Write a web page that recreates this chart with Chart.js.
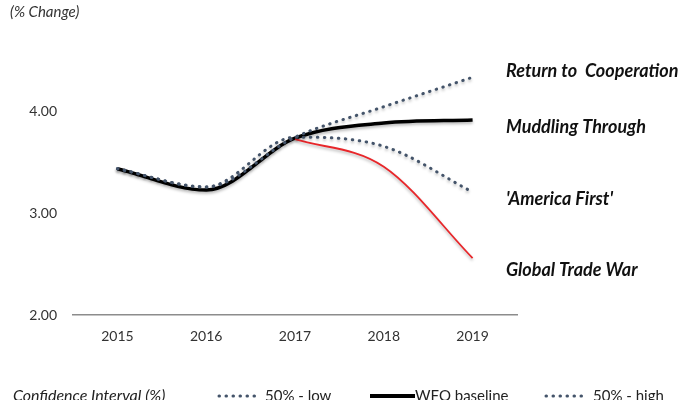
<!DOCTYPE html>
<html>
<head>
<meta charset="utf-8">
<script src="https://cdn.jsdelivr.net/npm/chart.js@4.4.1/dist/chart.umd.min.js"></script>
<style>
  html, body { margin: 0; padding: 0; background: #ffffff; }
  #wrap { width: 700px; height: 400px; position: relative; }
</style>
</head>
<body>
<div id="wrap"><canvas id="scenario-canvas" width="700" height="400"></canvas></div>
<script>
let years = ['2015', '2016', '2017', '2018', '2019'];
let baseline = [3.44, 3.23, 3.74, 3.89, 3.92];
let ci_high = [3.44, 3.26, 3.75, 4.05, 4.34];
let ci_low = [3.44, 3.26, 3.75, 3.66, 3.21];
let trade_war = [null, null, 3.73, 3.46, 2.56];
let scenario_names = ['Return to  Cooperation', 'Muddling Through', "'America First'", 'Global Trade War'];
let y_ticks = [2, 3, 4];

let font_name = 'Lato, "Open Sans", sans-serif';
let dot_color = '#44546a';

//soft shadow under the lines, like the original
let shadowPlugin = {
	id: 'shadow',
	beforeDatasetDraw: function(chart, args) {
		let ctx = chart.ctx;
		ctx.save();
		ctx.shadowColor = 'rgba(0,0,0,0.28)';
		ctx.shadowBlur = 3;
		ctx.shadowOffsetY = 2;
	},
	afterDatasetDraw: function(chart) {
		chart.ctx.restore();
	}
};

//scenario names, subtitle and bottom legend
let textPlugin = {
	id: 'texts',
	afterDraw: function(chart) {
		let ctx = chart.ctx;
		let y = chart.scales.y;
		let ends = [ci_high.at(-1), baseline.at(-1), ci_low.at(-1), trade_war.at(-1)];
		let nudges = [-6, 7, 7, 12];
		ctx.save();
		ctx.fillStyle = '#111111';
		ctx.font = 'italic bold 18px ' + font_name;
		ctx.textBaseline = 'middle';
		ctx.textAlign = 'left';
		for (var i = 0; i < scenario_names.length; i++) {
			ctx.fillText(scenario_names[i], chart.chartArea.right - 11, y.getPixelForValue(ends[i]) + nudges[i]);
		}

		ctx.fillStyle = '#333333';
		ctx.font = 'italic 15px ' + font_name;
		ctx.fillText('(% Change)', 10, 12);

		//legend row, partly cut by the bottom edge
		ctx.textBaseline = 'alphabetic';
		ctx.font = 'italic 16px ' + font_name;
		ctx.fillStyle = '#222222';
		ctx.fillText('Confidence Interval (%)', 13, 401);
		ctx.font = '15px ' + font_name;
		ctx.fillText('50% - low', 265, 401);
		ctx.fillText('WFO baseline', 415, 401);
		ctx.fillText('50% - high', 593, 401);

		ctx.lineCap = 'round';
		ctx.lineWidth = 3;
		ctx.strokeStyle = dot_color;
		ctx.setLineDash([0.5, 6.5]);
		[219, 546].forEach(function(x0) {
			ctx.beginPath();
			ctx.moveTo(x0, 396);
			ctx.lineTo(x0 + 36, 396);
			ctx.stroke();
		});
		ctx.setLineDash([]);
		ctx.lineCap = 'butt';
		ctx.lineWidth = 4;
		ctx.strokeStyle = '#000000';
		ctx.beginPath();
		ctx.moveTo(370, 396);
		ctx.lineTo(415, 396);
		ctx.stroke();
		ctx.restore();
	}
};

let context = document.getElementById('scenario-canvas').getContext('2d');
let scenario_chart = new Chart(context, {
	type: 'line',
	data: {
		labels: years,
		datasets: [
			{
				label: '50% - high',
				data: ci_high,
				borderColor: dot_color,
				borderWidth: 3,
				borderDash: [0.5, 6.5],
				borderCapStyle: 'round',
				cubicInterpolationMode: 'monotone',
				pointRadius: 0,
				order: 1
			},
			{
				label: '50% - low',
				data: ci_low,
				borderColor: dot_color,
				borderWidth: 3,
				borderDash: [0.5, 6.5],
				borderCapStyle: 'round',
				cubicInterpolationMode: 'monotone',
				pointRadius: 0,
				order: 2
			},
			{
				label: 'Global Trade War',
				data: trade_war,
				borderColor: '#e8262a',
				borderWidth: 1.8,
				cubicInterpolationMode: 'monotone',
				pointRadius: 0,
				order: 3
			},
			{
				label: 'WFO baseline',
				data: baseline,
				borderColor: '#000000',
				borderWidth: 3.5,
				cubicInterpolationMode: 'monotone',
				pointRadius: 0,
				order: 4
			}
		]
	},
	options: {
		responsive: false,
		animation: false,
		layout: {
			padding: { top: 61, left: 20, right: 183, bottom: 55 }
		},
		plugins: {
			legend: { display: false },
			tooltip: { enabled: false }
		},
		scales: {
			x: {
				offset: true,
				grid: { display: false, drawTicks: false },
				border: { display: true, color: '#8c8c8c', width: 1.5 },
				ticks: {
					color: '#333333',
					font: { family: font_name, size: 14 },
					padding: 13
				},
				afterFit: function(scale) { scale.height = 30; }
			},
			y: {
				min: 2,
				max: 4.5,
				grid: { display: false, drawTicks: false },
				border: { display: false },
				afterBuildTicks: function(scale) {
					scale.ticks = y_ticks.map(v => ({ value: v }));
				},
				ticks: {
					color: '#333333',
					font: { family: font_name, size: 14 },
					padding: 16,
					callback: function(val) { return Number(val).toFixed(2); }
				},
				afterFit: function(scale) { scale.width = 53; }
			}
		}
	},
	plugins: [shadowPlugin, textPlugin]
});
</script>
</body>
</html>
